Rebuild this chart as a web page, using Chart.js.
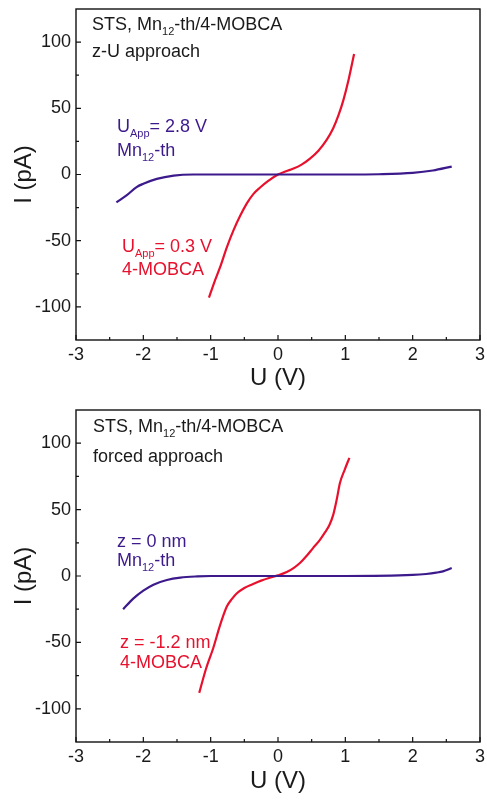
<!DOCTYPE html>
<html><head><meta charset="utf-8">
<script src="https://cdn.jsdelivr.net/npm/chart.js@4"></script>
<style>
html,body{margin:0;padding:0;background:#fff;}
#wrap{position:relative;width:487px;height:803px;overflow:hidden;}
canvas{position:absolute;left:0;}
</style></head><body>
<div id="wrap">
<canvas id="c1" style="top:0px" width="487" height="400"></canvas>
<canvas id="c2" style="top:400px" width="487" height="403"></canvas>
</div>
<script>
// ---- data ----
const xTickLabels = [-3, -2, -1, 0, 1, 2, 3];
const yTickLabels = [-100, -50, 0, 50, 100];
const xMinorTicks = [-2.5, -1.5, -0.5, 0.5, 1.5, 2.5];
const yMinorTicks = [-75, -25, 25, 75];

// top panel: z-U approach
const topMnU = [-2.40, -2.25, -2.10, -2.00, -1.80, -1.55, -1.26, -1.00, 0.00, 1.00, 1.50, 2.00, 2.30, 2.58];
const topMnI = [-21, -15.8, -9.5, -7.0, -3.3, -0.8, 0, 0, 0, 0, 0.2, 1.2, 3.0, 6.0];
const topMobU = [-1.025, -0.95, -0.86, -0.76, -0.66, -0.56, -0.465, -0.37, -0.27, -0.15, 0.00, 0.12, 0.23, 0.35, 0.475, 0.60, 0.72, 0.82, 0.90, 0.97, 1.05, 1.13];
const topMobI = [-93, -82, -70, -55, -42, -31, -22, -15, -10, -5, 0, 2.5, 4.5, 7.5, 12, 18, 26, 35, 45, 56, 72, 91];

// bottom panel: forced approach
const botMnU = [-2.30, -2.15, -2.00, -1.85, -1.65, -1.45, -1.20, -1.00, 0.00, 1.00, 2.00, 2.20, 2.35, 2.45, 2.58];
const botMnI = [-25, -17, -11, -6.5, -3, -1.2, -0.3, 0, 0, 0, 0.8, 1.5, 2.5, 3.5, 6];
const botMobU = [-1.17, -1.07, -0.96, -0.86, -0.76, -0.68, -0.61, -0.50, -0.37, -0.25, -0.12, 0.00, 0.13, 0.23, 0.33, 0.43, 0.52, 0.62, 0.70, 0.76, 0.82, 0.87, 0.92, 0.99, 1.06];
const botMobI = [-88, -70, -54, -37, -23, -17, -13, -9, -6, -3.5, -1.3, 0.5, 3, 6, 10, 15.5, 21, 27, 33, 38, 46, 57, 70, 80, 89];

// ---- styles ----
const PURPLE = '#3c1a8c';
const RED = '#e8112d';
const FONT = '"Liberation Sans", Arial, Helvetica, sans-serif';

function pts(xs, ys) { return xs.map((x, i) => ({x: x, y: ys[i]})); }

function drawRich(ctx, x, y, parts, color) {
  ctx.save();
  ctx.fillStyle = color;
  ctx.textBaseline = 'alphabetic';
  ctx.textAlign = 'left';
  let cx = x;
  for (const p of parts) {
    const sub = p[1];
    ctx.font = (sub ? '11px ' : '18px ') + FONT;
    ctx.fillText(p[0], cx, y + (sub ? 5 : 0));
    cx += ctx.measureText(p[0]).width;
  }
  ctx.restore();
}

const framePlugin = {
  id: 'frame',
  afterDatasetsDraw(chart) {
    const ctx = chart.ctx, a = chart.chartArea;
    const xs = chart.scales.x, ys = chart.scales.y;
    ctx.save();
    ctx.strokeStyle = '#111';
    ctx.lineWidth = 1.4;
    ctx.strokeRect(a.left, a.top, a.right - a.left, a.bottom - a.top);
    ctx.lineWidth = 1.2;
    ctx.beginPath();
    for (const v of xTickLabels) { const p = xs.getPixelForValue(v); ctx.moveTo(p, a.bottom); ctx.lineTo(p, a.bottom - 5); }
    for (const v of xMinorTicks) { const p = xs.getPixelForValue(v); ctx.moveTo(p, a.bottom); ctx.lineTo(p, a.bottom - 3); }
    for (const v of yTickLabels) { const p = ys.getPixelForValue(v); ctx.moveTo(a.left, p); ctx.lineTo(a.left + 5, p); }
    for (const v of yMinorTicks) { const p = ys.getPixelForValue(v); ctx.moveTo(a.left, p); ctx.lineTo(a.left + 3, p); }
    ctx.stroke();
    ctx.restore();
    const notes = chart.options.plugins.frame.notes;
    for (const n of notes) {
      let y = n.y;
      for (const line of n.lines) { drawRich(ctx, n.x, y, line, n.color); y += n.dy; }
    }
  }
};

function makeChart(id, mnU, mnI, mobU, mobI, padTop, xHeight, notes) {
  return new Chart(document.getElementById(id), {
    type: 'scatter',
    data: {
      datasets: [
        {data: pts(mnU, mnI), showLine: true, borderColor: PURPLE, borderWidth: 2.2, pointRadius: 0, cubicInterpolationMode: 'monotone', fill: false},
        {data: pts(mobU, mobI), showLine: true, borderColor: RED, borderWidth: 2.2, pointRadius: 0, cubicInterpolationMode: 'monotone', fill: false}
      ]
    },
    options: {
      responsive: false,
      animation: false,
      devicePixelRatio: 1,
      layout: {padding: {top: padTop, right: 7, left: 0, bottom: 0}},
      plugins: {legend: {display: false}, tooltip: {enabled: false}, frame: {notes: notes}},
      scales: {
        x: {
          type: 'linear', min: -3, max: 3,
          afterBuildTicks: s => { s.ticks = xTickLabels.map(v => ({value: v})); },
          afterFit: s => { s.height = xHeight; s.paddingLeft = 0; s.paddingRight = 0; },
          grid: {display: false, drawTicks: false},
          border: {display: false},
          ticks: {padding: 4, color: '#1a1a1a', font: {family: FONT, size: 18}, maxRotation: 0, autoSkip: false, callback: v => String(v)},
          title: {display: true, text: 'U (V)', color: '#1a1a1a', font: {family: FONT, size: 24}, padding: {top: 0, bottom: 7}}
        },
        y: {
          type: 'linear', min: -125, max: 125,
          afterBuildTicks: s => { s.ticks = yTickLabels.map(v => ({value: v})); },
          afterFit: s => { s.width = 76; s.paddingTop = 0; s.paddingBottom = 0; },
          grid: {display: false, drawTicks: false},
          border: {display: false},
          ticks: {padding: 5, color: '#1a1a1a', font: {family: FONT, size: 18}, autoSkip: false, callback: v => String(v)},
          title: {display: true, text: 'I (pA)', color: '#1a1a1a', font: {family: FONT, size: 24}, padding: {top: 10, bottom: 0}}
        }
      }
    },
    plugins: [framePlugin]
  });
}

makeChart('c1', topMnU, topMnI, topMobU, topMobI, 9, 60, [
  {x: 92, y: 30, dy: 27, color: '#1a1a1a', lines: [[['STS, Mn'], ['12', 1], ['-th/4-MOBCA']], [['z-U approach']]]},
  {x: 117, y: 132, dy: 24, color: PURPLE, lines: [[['U'], ['App', 1], ['= 2.8 V']], [['Mn'], ['12', 1], ['-th']]]},
  {x: 122, y: 252, dy: 23, color: RED, lines: [[['U'], ['App', 1], ['= 0.3 V']], [['4-MOBCA']]]}
]);
makeChart('c2', botMnU, botMnI, botMobU, botMobI, 10, 61, [
  {x: 93, y: 32, dy: 30, color: '#1a1a1a', lines: [[['STS, Mn'], ['12', 1], ['-th/4-MOBCA']], [['forced approach']]]},
  {x: 117, y: 147, dy: 19, color: PURPLE, lines: [[['z = 0 nm']], [['Mn'], ['12', 1], ['-th']]]},
  {x: 120, y: 248, dy: 20, color: RED, lines: [[['z = -1.2 nm']], [['4-MOBCA']]]}
]);
</script>
</body></html>
